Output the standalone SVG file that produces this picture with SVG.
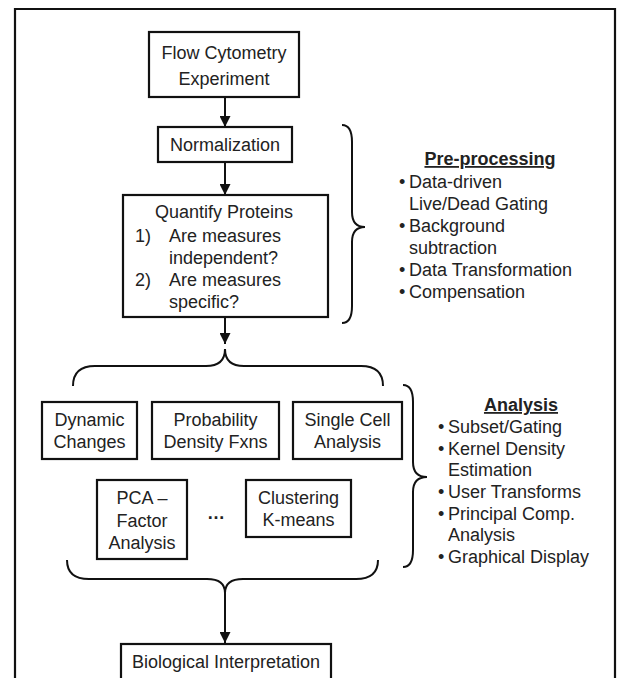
<svg xmlns="http://www.w3.org/2000/svg" width="618" height="678" viewBox="0 0 618 678">
<defs>
<style>
.box{fill:#fff;stroke:#111;stroke-width:2.2}
.t{font-family:"Liberation Sans",Arial,sans-serif;font-size:18px;fill:#222}
.c{text-anchor:middle}
.h{font-weight:bold;text-decoration:underline}
.ln{fill:none;stroke:#111;stroke-width:2}
</style>
<marker id="ah" viewBox="0 0 10 10" refX="10" refY="5" markerWidth="5.5" markerHeight="5.5" orient="auto" markerUnits="strokeWidth">
<path d="M0,0 L10,5 L0,10 z" fill="#111"/>
</marker>
</defs>
<rect width="618" height="678" fill="#fff"/>
<path d="M15,690 L15,9 L615,9 L615,690" fill="none" stroke="#111" stroke-width="2.2"/>

<g id="connectors">
<line class="ln" x1="225" y1="97" x2="225" y2="127" marker-end="url(#ah)"/>
<line class="ln" x1="225" y1="162" x2="225" y2="195" marker-end="url(#ah)"/>
<line class="ln" x1="225" y1="317" x2="225" y2="344" marker-end="url(#ah)"/>
<path class="ln" d="M73,386 Q73,366 95,366 L206,366 Q225,366 225,349 Q225,366 244,366 L361,366 Q383,366 383,386"/>
<path class="ln" d="M67,560 Q67,579 89,579 L207,579 Q225,579 225,593 Q225,579 243,579 L356,579 Q378,579 378,560"/>
<line class="ln" x1="225" y1="593" x2="225" y2="643" marker-end="url(#ah)"/>
<path class="ln" d="M342,125 Q352,125 352,142 L352,212 Q352,227 365,227 Q352,227 352,242 L352,306 Q352,323 342,323"/>
<path class="ln" d="M403,385 Q413,385 413,402 L413,462 Q413,477 427,477 Q413,477 413,492 L413,550 Q413,567 403,567"/>
</g>

<g id="flow">
<rect class="box" x="149" y="32" width="150" height="65"/>
<text class="t c" x="224" y="59">Flow Cytometry</text>
<text class="t c" x="224" y="85">Experiment</text>
</g>
<g id="normalization">
<rect class="box" x="158" y="127" width="134" height="35"/>
<text class="t c" x="225" y="151">Normalization</text>
</g>
<g id="quantify">
<rect class="box" x="123" y="195" width="205" height="122"/>
<text class="t c" x="224" y="218">Quantify Proteins</text>
<text class="t" x="135" y="242">1)</text>
<text class="t" x="169" y="242">Are measures</text>
<text class="t" x="169" y="264">independent?</text>
<text class="t" x="135" y="286">2)</text>
<text class="t" x="169" y="286">Are measures</text>
<text class="t" x="169" y="308">specific?</text>
</g>
<g id="preprocessing">
<text class="t c h" x="490" y="165">Pre-processing</text>
<text class="t" x="399" y="188">•</text><text class="t" x="409" y="188">Data-driven</text>
<text class="t" x="409" y="210">Live/Dead Gating</text>
<text class="t" x="399" y="232">•</text><text class="t" x="409" y="232">Background</text>
<text class="t" x="409" y="254">subtraction</text>
<text class="t" x="399" y="276">•</text><text class="t" x="409" y="276">Data Transformation</text>
<text class="t" x="399" y="298">•</text><text class="t" x="409" y="298">Compensation</text>
</g>
<g id="dynamic">
<rect class="box" x="42" y="402" width="95" height="57"/>
<text class="t c" x="89.5" y="426">Dynamic</text>
<text class="t c" x="89.5" y="448">Changes</text>
</g>
<g id="probability">
<rect class="box" x="152" y="402" width="127" height="57"/>
<text class="t c" x="215.5" y="426">Probability</text>
<text class="t c" x="215.5" y="448">Density Fxns</text>
</g>
<g id="singlecell">
<rect class="box" x="293" y="402" width="109" height="57"/>
<text class="t c" x="347.5" y="426">Single Cell</text>
<text class="t c" x="347.5" y="448">Analysis</text>
</g>
<g id="pca">
<rect class="box" x="97" y="480" width="90" height="79"/>
<text class="t c" x="142" y="504">PCA –</text>
<text class="t c" x="142" y="527">Factor</text>
<text class="t c" x="142" y="549">Analysis</text>
</g>
<g id="ellipsis">
<text class="t c" x="216" y="519" style="font-weight:bold">…</text>
</g>
<g id="clustering">
<rect class="box" x="246" y="480" width="105" height="57"/>
<text class="t c" x="298.5" y="504">Clustering</text>
<text class="t c" x="298.5" y="526">K-means</text>
</g>
<g id="analysis">
<text class="t c h" x="521" y="411">Analysis</text>
<text class="t" x="438" y="433">•</text><text class="t" x="448" y="433">Subset/Gating</text>
<text class="t" x="438" y="455">•</text><text class="t" x="448" y="455">Kernel Density</text>
<text class="t" x="448" y="476">Estimation</text>
<text class="t" x="438" y="498">•</text><text class="t" x="448" y="498">User Transforms</text>
<text class="t" x="438" y="520">•</text><text class="t" x="448" y="520">Principal Comp.</text>
<text class="t" x="448" y="541">Analysis</text>
<text class="t" x="438" y="563">•</text><text class="t" x="448" y="563">Graphical Display</text>
</g>
<g id="biological">
<rect class="box" x="121" y="644" width="210" height="45"/>
<text class="t c" x="226" y="668">Biological Interpretation</text>
</g>
</svg>
